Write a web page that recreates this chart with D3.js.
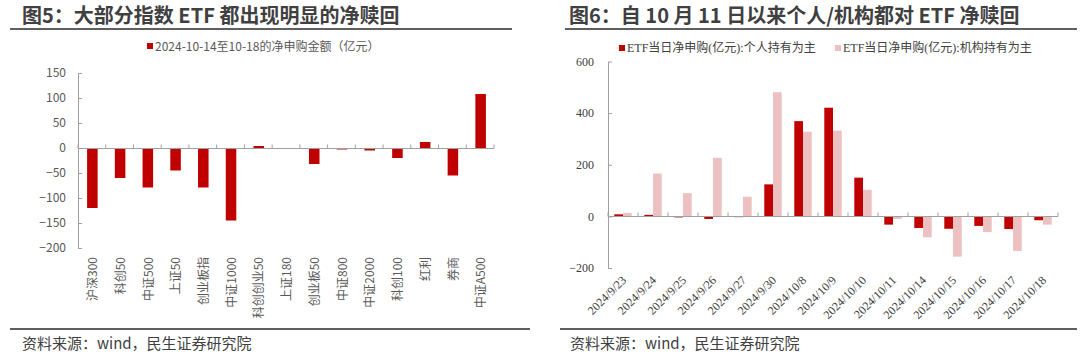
<!DOCTYPE html>
<html>
<head>
<meta charset="utf-8">
<script src="https://cdn.jsdelivr.net/npm/d3@7"></script>
<style>
  html, body { margin: 0; padding: 0; background: #fff; }
  svg { display: block; }
</style>
</head>
<body>
<svg id="chart" width="1080" height="357"></svg>
<script>
// ---------- DATA ----------
const leftTitle = "图5：大部分指数 ETF 都出现明显的净赎回";
const rightTitle = "图6：自 10 月 11 日以来个人/机构都对 ETF 净赎回";
const sourceText = "资料来源：wind，民生证券研究院";

const leftCategories = ["沪深300", "科创50", "中证500", "上证50", "创业板指", "中证1000", "科创创业50", "上证180", "创业板50", "中证800", "中证2000", "科创100", "红利", "券商", "中证A500"];
const leftValues = [-120, -60, -79, -45, -79, -145, 4, 0, -32, -3, -5, -20, 12, -55, 108];
const leftLegend = "2024-10-14至10-18的净申购金额（亿元）";
const leftTicks = [-200, -150, -100, -50, 0, 50, 100, 150];

const rightCategories = ["2024/9/23", "2024/9/24", "2024/9/25", "2024/9/26", "2024/9/27", "2024/9/30", "2024/10/8", "2024/10/9", "2024/10/10", "2024/10/11", "2024/10/14", "2024/10/15", "2024/10/16", "2024/10/17", "2024/10/18"];
const individualValues = [8, 6, -4, -10, -3, 124, 369, 421, 150, -32, -45, -48, -37, -49, -15];
const institutionValues = [13, 166, 90, 227, 76, 481, 328, 332, 103, -10, -81, -156, -61, -134, -32];
const rightSeriesNames = ["ETF当日净申购(亿元):个人持有为主", "ETF当日净申购(亿元):机构持有为主"];
const rightTicks = [-200, 0, 200, 400, 600];

// ---------- STYLE ----------
const darkRed = "#C00000";
const pink = "#EDC1C2";
const axisColor = "#A0A0A0";
const textColor = "#595959";
const sansCJK = "'Noto Sans CJK SC', 'Noto Sans', sans-serif";
const serifCJK = "'Liberation Serif', 'Noto Sans CJK SC', serif";

const svg = d3.select("#chart");

// ---------- HEADERS / FOOTERS ----------
function header(x0, x1, tx, title) {
  svg.append("text").attr("x", tx).attr("y", 23)
    .attr("font-family", sansCJK).attr("font-size", 20).attr("font-weight", "bold")
    .attr("fill", "#404040").text(title);
  svg.append("line").attr("x1", x0).attr("x2", x1).attr("y1", 29).attr("y2", 29)
    .attr("stroke", "#5f5f5f").attr("stroke-width", 2);
}
function footer(x0, x1, tx) {
  svg.append("line").attr("x1", x0).attr("x2", x1).attr("y1", 329).attr("y2", 329)
    .attr("stroke", "#5f5f5f").attr("stroke-width", 2);
  svg.append("text").attr("x", tx).attr("y", 349)
    .attr("font-family", sansCJK).attr("font-size", 15)
    .attr("fill", "#404040").text(sourceText);
}
header(10, 512, 22, leftTitle);
header(565, 1077, 569, rightTitle);
footer(10, 530, 22);
footer(560, 1077, 570);

// ---------- LEFT CHART ----------
{
  const x = d3.scaleBand().domain(leftCategories).range([78, 494]).paddingInner(0).paddingOuter(0);
  const y = d3.scaleLinear().domain([-200, 150]).range([248, 73]);
  const g = svg.append("g");
  const bw = x.bandwidth() * 0.38;

  // y axis
  const yAxis = d3.axisLeft(y).tickValues(leftTicks).tickSizeInner(-4).tickSizeOuter(0).tickPadding(12);
  const ya = g.append("g").attr("transform", "translate(78,0)").call(yAxis);
  ya.select(".domain").attr("stroke", axisColor);
  ya.selectAll(".tick line").attr("stroke", axisColor);
  ya.selectAll(".tick text").attr("font-family", sansCJK).attr("font-size", 12).attr("fill", textColor);

  // bars
  g.selectAll("rect.bar").data(leftValues).join("rect").attr("class", "bar")
    .attr("x", (d, i) => x(leftCategories[i]) + x.bandwidth() / 2 - bw / 2 + 0.5)
    .attr("width", bw)
    .attr("y", d => y(Math.max(0, d)))
    .attr("height", d => Math.abs(y(d) - y(0)))
    .attr("fill", darkRed);

  // zero axis with category boundary ticks (upward)
  const z = Math.round(y(0)) + 0.5;
  g.append("line").attr("x1", 78).attr("x2", 494).attr("y1", z).attr("y2", z).attr("stroke", axisColor);
  const bounds = leftCategories.map(c => x(c)).concat([x.range()[1]]);
  g.selectAll("line.bt").data(bounds).join("line").attr("class", "bt")
    .attr("x1", d => d).attr("x2", d => d).attr("y1", z).attr("y2", z - 4).attr("stroke", axisColor);

  // category labels (vertical)
  g.selectAll("text.cat").data(leftCategories).join("text").attr("class", "cat")
    .attr("transform", d => `translate(${x(d) + x.bandwidth() / 2 + 1},257) rotate(-90)`)
    .attr("text-anchor", "end").attr("dy", "0.35em")
    .attr("font-family", sansCJK).attr("font-size", 12).attr("fill", textColor)
    .text(d => d);

  // legend
  svg.append("rect").attr("x", 147).attr("y", 43).attr("width", 6).attr("height", 6).attr("fill", darkRed);
  svg.append("text").attr("x", 155).attr("y", 47).attr("dy", "0.35em")
    .attr("font-family", sansCJK).attr("font-size", 12).attr("fill", textColor).text(leftLegend);
}

// ---------- RIGHT CHART ----------
{
  const x = d3.scaleBand().domain(rightCategories).range([608, 1058]).paddingInner(0).paddingOuter(0);
  const y = d3.scaleLinear().domain([-200, 600]).range([268, 61.5]);
  const g = svg.append("g");
  const series = ["ind", "inst"];
  const xs = d3.scaleBand().domain(series).range([0, 17.4]);
  const offset = (x.bandwidth() - 17.4) / 2;
  const colors = { ind: darkRed, inst: pink };

  // y axis
  const yAxis = d3.axisLeft(y).tickValues(rightTicks).tickSizeInner(-4).tickSizeOuter(0).tickPadding(14);
  const ya = g.append("g").attr("transform", "translate(608,0)").call(yAxis);
  ya.select(".domain").attr("stroke", axisColor);
  ya.selectAll(".tick line").attr("stroke", axisColor);
  ya.selectAll(".tick text").attr("font-family", serifCJK).attr("font-size", 12).attr("fill", "#404040");

  const rows = rightCategories.map((c, i) => ({ c, ind: individualValues[i], inst: institutionValues[i] }));
  const grp = g.selectAll("g.grp").data(rows).join("g").attr("class", "grp")
    .attr("transform", d => `translate(${x(d.c) + offset},0)`);
  grp.selectAll("rect").data(d => series.map(k => ({ k, v: d[k] }))).join("rect")
    .attr("x", d => xs(d.k))
    .attr("width", xs.bandwidth())
    .attr("y", d => y(Math.max(0, d.v)))
    .attr("height", d => Math.abs(y(d.v) - y(0)))
    .attr("fill", d => colors[d.k]);

  const z = Math.round(y(0)) + 0.5;
  g.append("line").attr("x1", 608).attr("x2", 1058).attr("y1", z).attr("y2", z).attr("stroke", axisColor);
  const bounds = rightCategories.map(c => x(c)).concat([x.range()[1]]);
  g.selectAll("line.bt").data(bounds).join("line").attr("class", "bt")
    .attr("x1", d => d).attr("x2", d => d).attr("y1", z).attr("y2", z - 4).attr("stroke", axisColor);

  g.selectAll("text.cat").data(rightCategories).join("text").attr("class", "cat")
    .attr("transform", d => `translate(${x(d) + x.bandwidth() / 2 + 4},281) rotate(-45)`)
    .attr("text-anchor", "end")
    .attr("font-family", serifCJK).attr("font-size", 12).attr("fill", "#404040")
    .text(d => d);

  // legend
  const lx = [619, 835];
  rightSeriesNames.forEach((n, i) => {
    svg.append("rect").attr("x", lx[i]).attr("y", 45).attr("width", 6).attr("height", 6).attr("fill", colors[series[i]]);
    svg.append("text").attr("x", lx[i] + 8).attr("y", 48).attr("dy", "0.35em")
      .attr("font-family", serifCJK).attr("font-size", 12).attr("fill", "#404040").text(n);
  });
}
</script>
</body>
</html>
